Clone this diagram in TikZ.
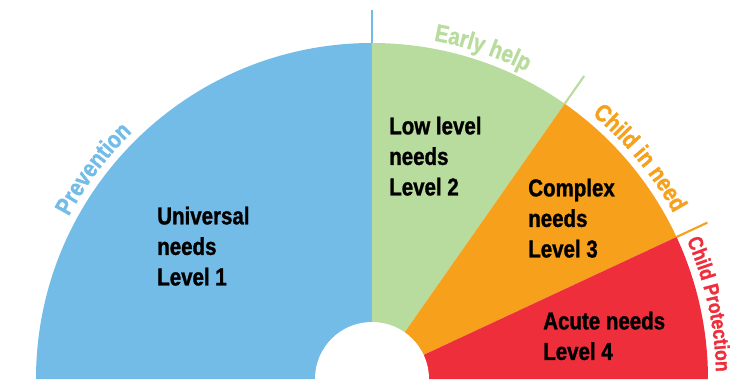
\documentclass[tikz,border=0pt]{standalone}
\usepackage{fontspec}
\setmainfont{Liberation Sans}
\newfontfamily\condfont{Liberation Sans}[FakeStretch=0.84,BoldFeatures={FakeBold=1.2}]
\usetikzlibrary{decorations.text}

\definecolor{prevblue}{RGB}{116,188,232}
\definecolor{earlygreen}{RGB}{184,220,158}
\definecolor{needorange}{RGB}{246,160,28}
\definecolor{protred}{RGB}{238,47,59}

\newcommand{\bandfont}[1]{\condfont\bfseries\fontsize{#1}{20}\selectfont}

\tikzstyle{levellabel} = [anchor=north west,inner sep=0pt,align=left,font=\condfont\bfseries\fontsize{18.3}{22.9}\selectfont]
\tikzstyle{bandtick} = [line width=1.6pt]
\tikzstyle{bandname} = [decorate,decoration={text along path,text align=center}]

\begin{document}
\begin{tikzpicture}[x=0.75pt,y=0.75pt]
	\useasboundingbox (-372,0) rectangle (371,379);
	\fill[prevblue] (0,0) -- (90:336) arc (90:180:336) -- cycle;
	\fill[earlygreen] (0,0) -- (55:336) arc (55:90:336) -- cycle;
	\fill[needorange] (0,0) -- (25:336) arc (25:55:336) -- cycle;
	\fill[protred] (0,0) -- (0:336) arc (0:25:336) -- cycle;
	\fill[white] (0,0) circle (57);
	\draw[bandtick,prevblue] (90:336) -- (90:369);
	\draw[bandtick,earlygreen] (55:336) -- (55:370);
	\draw[bandtick,needorange] (25:336) -- (25:370);
	\bandfont{18.3}
	\path[bandname,decoration={text color=prevblue,text={Prevention}}]
		(158:344) arc (158:128:344);
	\path[bandname,decoration={text color=earlygreen,text={Early help}}]
		(86:344) arc (86:57:344);
	\path[bandname,decoration={text color=needorange,text={Child in need}}]
		(55:344) arc (55:24:344);
	\bandfont{15.7}
	\path[bandname,decoration={text color=protred,text={Child Protection}}]
		(27:344) arc (27:-2:344);
	\node[levellabel] (lvl1) at (-215,172.6) {Universal\\needs\\Level 1};
	\node[levellabel] (lvl2) at (17,262.6) {Low level\\needs\\Level 2};
	\node[levellabel] (lvl3) at (156,200.6) {Complex\\needs\\Level 3};
	\node[levellabel] (lvl4) at (171,67.6) {Acute needs\\Level 4};
\end{tikzpicture}
\end{document}
